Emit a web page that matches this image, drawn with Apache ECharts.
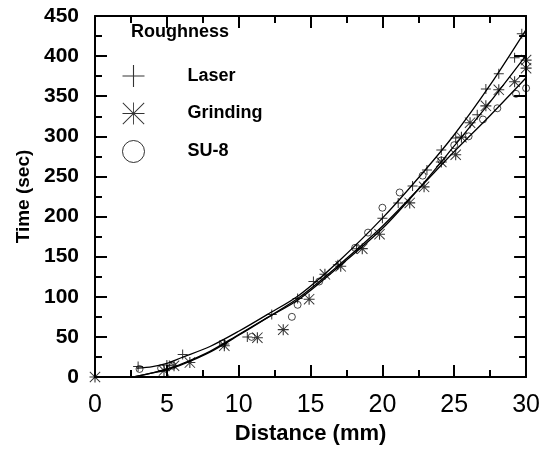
<!DOCTYPE html>
<html>
<head>
<meta charset="utf-8">
<script src="https://cdn.jsdelivr.net/npm/echarts@6/dist/echarts.min.js"></script>
<style>
  html, body { margin: 0; padding: 0; background: #fff; }
  #chart { width: 543px; height: 451px; }
</style>
</head>
<body>
<div id="chart"></div>
<script>
// measured points (distance mm, time sec)
var laserPts = [[3.0,13],[5.0,15],[6.1,28],[9.0,41],[10.6,50],[12.3,78],[14.1,98],[15.2,119],[16.9,140],[18.2,160],[20.0,198],[21.1,217],[22.1,238],[23.1,258],[24.1,283],[25.1,298],[26.6,327],[27.2,359],[28.1,378],[29.2,398],[29.7,428]]
var grindPts = [[0,0],[4.8,8],[5.5,14],[6.6,18],[9.0,39],[11.3,49],[13.1,59],[14.9,97],[16.0,128],[17.1,138],[18.6,160],[19.8,178],[21.9,217],[22.9,237],[24.1,268],[25.1,277],[25.5,299],[26.1,317],[27.2,338],[28.1,358],[29.2,368],[30.0,385],[30.0,395]]
var su8Pts = [[3.1,10],[4.6,11],[5.4,14],[8.9,42],[10.9,50],[13.7,75],[14.1,90],[15.6,119],[18.1,161],[19.0,180],[20.0,211],[21.2,230],[22.8,251],[24.1,270],[25.0,289],[26.0,300],[27.0,321],[28.0,335],[29.3,353],[30.0,360]]

// fitted curves
var laserFit = [[2.9,11],[4,13],[5,17],[6,24],[8,38],[10,57],[12,78],[14.2,102],[17,145],[20,198],[22.5,248],[25,302],[27.5,364],[30,433]]
var grindFit = [[2.7,0],[4,5],[5,10],[6,16],[8,32],[10,53],[12,74],[14.2,97],[17,138],[20,185],[22.5,234],[25,288],[27.5,343],[30,401]]
var su8Fit = [[2.7,0],[4,5],[5,9],[6,15],[8,31],[10,52],[12,74],[14.2,99],[17,140],[20,188],[22.5,234],[25,281],[27.5,326],[30,373]]

var seriesNames = ['Laser', 'Grinding', 'SU-8']
var xTicks = { min: 0, max: 30, interval: 5 }
var yTicks = { min: 0, max: 450, interval: 50 }

var FONT = '"Liberation Sans", Arial, sans-serif'

// marker shapes (thin bars), data size vs legend size
var plusPath = 'path://M0,9H20V11H0Z M9,0H11V20H9Z'
var plusThin = 'path://M0,9.5H20V10.5H0Z M9.5,0H10.5V20H9.5Z'
var starPath = 'path://M0,9H20V11H0Z M9,0H11V20H9Z M0,1.2L1.2,0L20,18.8L18.8,20Z M18.8,0L20,1.2L1.2,20L0,18.8Z'
var starThin = 'path://M0,9.6H20V10.4H0Z M9.6,0H10.4V20H9.6Z M0,0.6L0.6,0L20,19.4L19.4,20Z M19.4,0L20,0.6L0.6,20L0,19.4Z'

var myChart = echarts.init(document.getElementById('chart'))

function axisCommon(){
    return {
        axisLine: { show: true, onZero: false, lineStyle: { color: '#000', width: 2 } },
        axisTick: { show: true, inside: true, length: 12, lineStyle: { color: '#000', width: 2 } },
        minorTick: { show: true, splitNumber: 2, length: 7, lineStyle: { color: '#000', width: 2 } },
        splitLine: { show: false }
    }
}

var option = {
    animation: false,
    backgroundColor: '#fff',
    textStyle: { fontFamily: FONT },
    grid: { left: 95, right: 15, top: 16, bottom: 74 },
    title: {
        text: 'Roughness',
        left: 131, top: 23, padding: 0,
        textStyle: { fontFamily: FONT, fontSize: 18, fontWeight: 'bold', color: '#000' }
    },
    legend: {
        orient: 'vertical',
        left: 122, top: 65, padding: 0,
        itemWidth: 22, itemHeight: 22, itemGap: 15.5,
        textStyle: { fontFamily: FONT, fontSize: 18, fontWeight: 'bold', color: '#000', padding: [0, 0, 0, 38] },
        data: [
            { name: seriesNames[0], icon: plusThin },
            { name: seriesNames[1], icon: starThin },
            { name: seriesNames[2], icon: 'circle', itemStyle: { color: '#fff', borderColor: '#000', borderWidth: 1 } }
        ]
    },
    xAxis: [
        Object.assign(axisCommon(), {
            type: 'value', min: xTicks.min, max: xTicks.max, interval: xTicks.interval,
            name: 'Distance (mm)', nameLocation: 'middle', nameGap: 44,
            nameTextStyle: { fontFamily: FONT, fontSize: 22, fontWeight: 'bold', color: '#000' },
            axisLabel: { margin: 16, fontFamily: FONT, fontSize: 25, color: '#000' }
        }),
        Object.assign(axisCommon(), {
            type: 'value', position: 'top', min: xTicks.min, max: xTicks.max, interval: xTicks.interval,
            axisLabel: { show: false }
        })
    ],
    yAxis: [
        Object.assign(axisCommon(), {
            type: 'value', min: yTicks.min, max: yTicks.max, interval: yTicks.interval,
            name: 'Time (sec)', nameLocation: 'middle', nameGap: 62,
            nameTextStyle: { fontFamily: FONT, fontSize: 19, fontWeight: 'bold', color: '#000' },
            axisLabel: { margin: 16, fontFamily: FONT, fontSize: 21, fontWeight: 'bold', color: '#000' }
        }),
        Object.assign(axisCommon(), {
            type: 'value', position: 'right', min: yTicks.min, max: yTicks.max, interval: yTicks.interval,
            axisLabel: { show: false }
        })
    ],
    series: [
        { name: seriesNames[0], type: 'scatter', data: laserPts, symbol: plusPath, symbolSize: 10, clip: false,
          itemStyle: { color: '#000' }, z: 5 },
        { name: seriesNames[1], type: 'scatter', data: grindPts, symbol: starPath, symbolSize: 11, clip: false,
          itemStyle: { color: '#000' }, z: 5 },
        { name: seriesNames[2], type: 'scatter', data: su8Pts, symbol: 'circle', symbolSize: 7, clip: false,
          itemStyle: { color: 'rgba(255,255,255,0)', borderColor: '#000', borderWidth: 0.9 }, z: 5 },
        { type: 'line', data: laserFit, smooth: 0.3, showSymbol: false, silent: true,
          lineStyle: { color: '#000', width: 1.3 } },
        { type: 'line', data: grindFit, smooth: 0.3, showSymbol: false, silent: true,
          lineStyle: { color: '#000', width: 1.3 } },
        { type: 'line', data: su8Fit, smooth: 0.3, showSymbol: false, silent: true,
          lineStyle: { color: '#000', width: 1.3 } }
    ]
}
myChart.setOption(option)
</script>
</body>
</html>
